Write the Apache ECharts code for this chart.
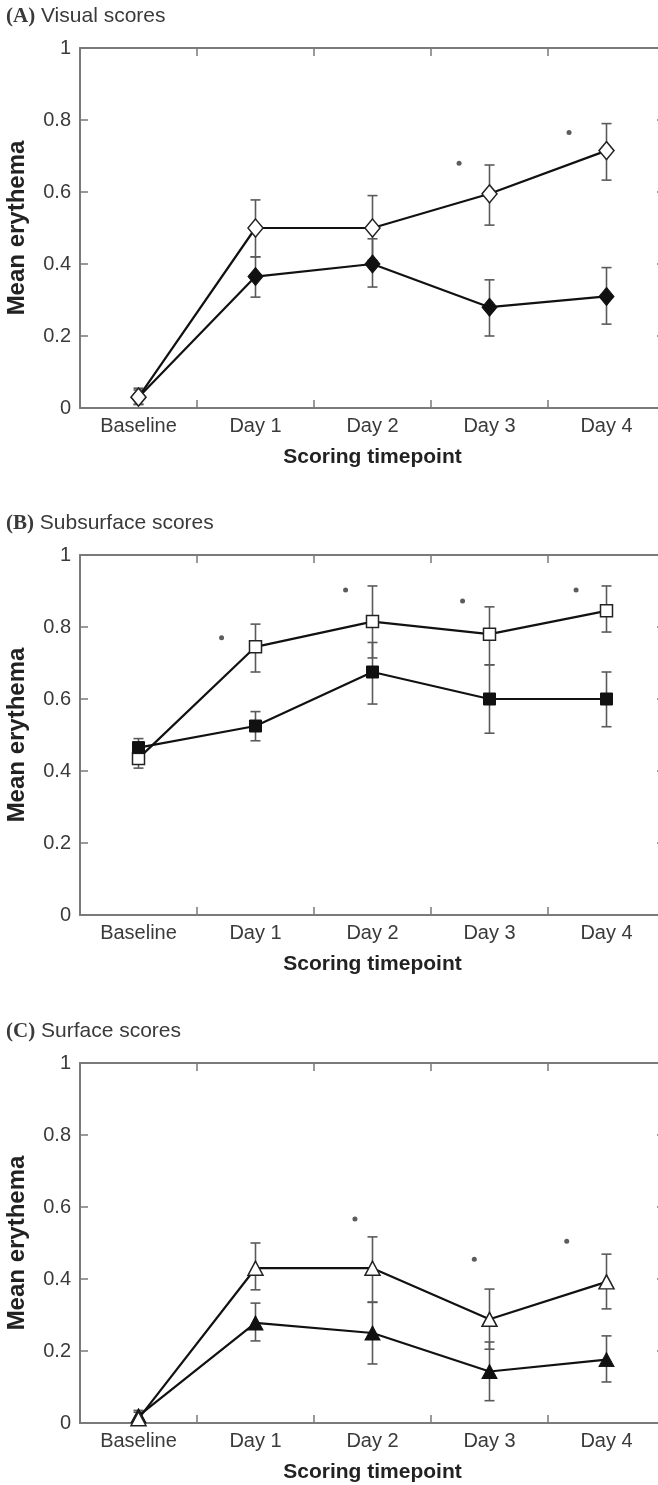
<!DOCTYPE html>
<html>
<head>
<meta charset="utf-8">
<script src="https://cdn.jsdelivr.net/npm/echarts@6/dist/echarts.min.js"></script>
<style>
html,body{margin:0;padding:0;background:#fff;}
#chart{width:658px;height:1485px;}
</style>
</head>
<body>
<div id="chart"></div>
<script>
// ---------- data ----------
const categories = ['Baseline', 'Day 1', 'Day 2', 'Day 3', 'Day 4'];
const yTicks = [0, 0.2, 0.4, 0.6, 0.8, 1];

// (A) Visual scores
const visualOpenMean   = [0.03, 0.50, 0.50, 0.595, 0.715];
const visualOpenLo     = [0.01, 0.42, 0.41, 0.508, 0.633];
const visualOpenHi     = [0.055, 0.578, 0.59, 0.675, 0.79];
const visualFilledMean = [0.03, 0.365, 0.40, 0.28, 0.31];
const visualFilledLo   = [0.01, 0.308, 0.336, 0.20, 0.233];
const visualFilledHi   = [0.05, 0.42, 0.47, 0.356, 0.39];
const visualStarX      = [2.74, 3.68];
const visualStarY      = [0.68, 0.765];

// (B) Subsurface scores
const subOpenMean   = [0.435, 0.745, 0.815, 0.78, 0.845];
const subOpenLo     = [0.408, 0.675, 0.714, 0.695, 0.786];
const subOpenHi     = [0.46, 0.808, 0.914, 0.856, 0.914];
const subFilledMean = [0.465, 0.525, 0.675, 0.60, 0.60];
const subFilledLo   = [0.44, 0.484, 0.586, 0.505, 0.523];
const subFilledHi   = [0.49, 0.565, 0.757, 0.695, 0.675];
const subStarX      = [0.71, 1.77, 2.77, 3.74];
const subStarY      = [0.77, 0.903, 0.872, 0.903];

// (C) Surface scores
const surfOpenMean   = [0.012, 0.43, 0.43, 0.288, 0.392];
const surfOpenLo     = [0.0, 0.37, 0.336, 0.205, 0.317];
const surfOpenHi     = [0.03, 0.50, 0.517, 0.372, 0.469];
const surfFilledMean = [0.02, 0.278, 0.25, 0.143, 0.176];
const surfFilledLo   = [0.0, 0.228, 0.164, 0.062, 0.114];
const surfFilledHi   = [0.035, 0.333, 0.335, 0.225, 0.242];
const surfStarX      = [1.85, 2.87, 3.66];
const surfStarY      = [0.567, 0.455, 0.505];

// ---------- layout / style ----------
const panels = [
  {tag: '(A)', title: ' Visual scores', top: 48, symbol: 'diamond', openSize: [15, 18], filledSize: [15, 18],
   openMean: visualOpenMean, openLo: visualOpenLo, openHi: visualOpenHi,
   filledMean: visualFilledMean, filledLo: visualFilledLo, filledHi: visualFilledHi,
   starX: visualStarX, starY: visualStarY, openOnTop: true},
  {tag: '(B)', title: ' Subsurface scores', top: 555, symbol: 'rect', openSize: 12, filledSize: 12,
   openMean: subOpenMean, openLo: subOpenLo, openHi: subOpenHi,
   filledMean: subFilledMean, filledLo: subFilledLo, filledHi: subFilledHi,
   starX: subStarX, starY: subStarY, openOnTop: false},
  {tag: '(C)', title: ' Surface scores', top: 1063, symbol: 'triangle', openSize: [15, 14], filledSize: [15, 14],
   openMean: surfOpenMean, openLo: surfOpenLo, openHi: surfOpenHi,
   filledMean: surfFilledMean, filledLo: surfFilledLo, filledHi: surfFilledHi,
   starX: surfStarX, starY: surfStarY, openOnTop: true}
];

const AXIS_COLOR = '#7a7a7a';
const TEXT_COLOR = '#3a3a3a';
const SANS = '"Liberation Sans", Arial, Helvetica, sans-serif';
const SERIF = '"Liberation Serif", "Times New Roman", serif';
const PLOT_H = 360;

const grid = [], xAxis = [], yAxis = [], series = [], graphic = [];

function errorSeries(xi, yi, lo, hi, z) {
  return {
    type: 'custom', xAxisIndex: xi, yAxisIndex: yi, z: z, silent: true,
    data: lo.map((l, i) => [i, l, hi[i]]),
    renderItem: function (params, api) {
      const p1 = api.coord([api.value(0), api.value(1)]);
      const p2 = api.coord([api.value(0), api.value(2)]);
      const cw = 5;
      const st = {stroke: '#5a5a5a', lineWidth: 1.6};
      return {type: 'group', children: [
        {type: 'line', shape: {x1: p1[0], y1: p1[1], x2: p2[0], y2: p2[1]}, style: st},
        {type: 'line', shape: {x1: p1[0] - cw, y1: p1[1], x2: p1[0] + cw, y2: p1[1]}, style: st},
        {type: 'line', shape: {x1: p2[0] - cw, y1: p2[1], x2: p2[0] + cw, y2: p2[1]}, style: st}
      ]};
    }
  };
}

const catTick = {show: true, inside: true, length: 8, interval: 0, alignWithLabel: false,
                 lineStyle: {color: AXIS_COLOR, width: 1.5}};

panels.forEach((p, k) => {
  grid.push({left: 80, width: 585, top: p.top, height: PLOT_H, containLabel: false, outerBoundsMode: 'none'});
  // bottom category axis
  xAxis.push({
    type: 'category', gridIndex: k, data: categories, position: 'bottom', boundaryGap: true,
    axisLine: {show: true, onZero: false, lineStyle: {color: AXIS_COLOR, width: 2}},
    axisTick: catTick,
    axisLabel: {color: TEXT_COLOR, fontSize: 20, fontFamily: SANS, margin: 8, interval: 0},
    name: 'Scoring timepoint', nameLocation: 'middle', nameGap: 39,
    nameTextStyle: {color: '#222', fontSize: 21, fontWeight: 'bold', fontFamily: SANS}
  });
  // top frame axis
  xAxis.push({
    type: 'category', gridIndex: k, data: categories, position: 'top', boundaryGap: true,
    axisLine: {show: true, onZero: false, lineStyle: {color: AXIS_COLOR, width: 2}},
    axisTick: catTick,
    axisLabel: {show: false}
  });
  // hidden value axis for significance marks
  xAxis.push({
    type: 'value', gridIndex: k, min: -0.5, max: 4.5, show: false,
    axisLine: {onZero: false}
  });
  yAxis.push({
    type: 'value', gridIndex: k, min: 0, max: 1, interval: 0.2, position: 'left',
    axisLine: {show: true, onZero: false, lineStyle: {color: AXIS_COLOR, width: 2}},
    axisTick: {show: true, inside: true, length: 8, lineStyle: {color: AXIS_COLOR, width: 1.5}},
    splitLine: {show: false},
    axisLabel: {color: TEXT_COLOR, fontSize: 20, fontFamily: SANS, margin: 9,
                formatter: v => String(Math.round(v * 10) / 10)},
    name: 'Mean erythema', nameLocation: 'middle', nameGap: 51,
    nameTextStyle: {color: '#222', fontSize: 24, fontWeight: 'bold', fontFamily: SANS}
  });
  yAxis.push({
    type: 'value', gridIndex: k, min: 0, max: 1, interval: 0.2, position: 'right',
    axisLine: {show: true, onZero: false, lineStyle: {color: AXIS_COLOR, width: 2}},
    axisTick: {show: true, inside: true, length: 8, lineStyle: {color: AXIS_COLOR, width: 1.5}},
    splitLine: {show: false}, axisLabel: {show: false}
  });
  const xi = k * 3, yi = k * 2;
  series.push(errorSeries(xi, yi, p.filledLo, p.filledHi, 2));
  series.push(errorSeries(xi, yi, p.openLo, p.openHi, 2));
  series.push({
    type: 'line', xAxisIndex: xi, yAxisIndex: yi, data: p.filledMean, z: p.openOnTop ? 3 : 5,
    symbol: p.symbol, symbolSize: p.filledSize, showAllSymbol: true,
    lineStyle: {color: '#111', width: 2.2},
    itemStyle: {color: '#111', borderColor: '#111', borderWidth: 1},
    animation: false
  });
  series.push({
    type: 'line', xAxisIndex: xi, yAxisIndex: yi, data: p.openMean, z: p.openOnTop ? 5 : 3,
    symbol: p.symbol, symbolSize: p.openSize, showAllSymbol: true,
    lineStyle: {color: '#111', width: 2.2},
    itemStyle: {color: '#fff', borderColor: '#222', borderWidth: 1.5},
    animation: false
  });
  series.push({
    type: 'scatter', xAxisIndex: xi + 2, yAxisIndex: yi, z: 4,
    data: p.starX.map((x, i) => [x, p.starY[i]]),
    symbol: 'circle', symbolSize: 5, itemStyle: {color: '#333'}, animation: false
  });
  graphic.push({
    type: 'text', left: 6, top: p.top - 42,
    style: {
      text: '{t|' + p.tag + '}{s|' + p.title + '}',
      rich: {
        t: {fontFamily: SERIF, fontWeight: 'bold', fontSize: 21, fill: TEXT_COLOR},
        s: {fontFamily: SANS, fontSize: 21, fill: TEXT_COLOR}
      }
    }
  });
});

const chart = echarts.init(document.getElementById('chart'), null, {renderer: 'canvas'});
chart.setOption({
  animation: false,
  backgroundColor: '#fff',
  grid, xAxis, yAxis, series, graphic
});
</script>
</body>
</html>
